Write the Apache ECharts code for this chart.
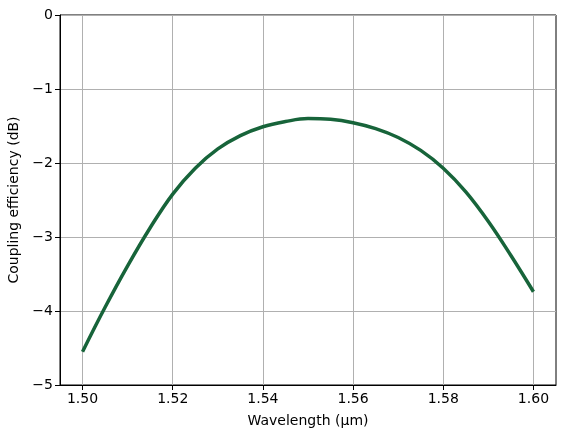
<!DOCTYPE html>
<html>
<head>
<meta charset="utf-8">
<script src="https://cdn.jsdelivr.net/npm/echarts@6/dist/echarts.min.js"></script>
<style>html,body{margin:0;padding:0;background:#fff}#c{width:565px;height:438px}</style>
</head>
<body>
<div id="c"></div>
<script>
var wavelengths = [1.500,1.505,1.510,1.515,1.520,1.525,1.530,1.535,1.540,1.545,1.550,1.555,1.560,1.565,1.570,1.575,1.580,1.585,1.590,1.595,1.600];
var efficiency = [-4.55,-3.95,-3.39,-2.875,-2.42,-2.07,-1.81,-1.63,-1.51,-1.44,-1.40,-1.41,-1.455,-1.535,-1.655,-1.83,-2.07,-2.39,-2.79,-3.25,-3.74];
var xTicks = [1.50,1.52,1.54,1.56,1.58,1.60];
var yTicks = [-5,-4,-3,-2,-1,0];

var data = wavelengths.map(function(w,i){return [w, efficiency[i]];});
var font = 'DejaVu Sans';
var chart = echarts.init(document.getElementById('c'), null, {renderer:'canvas'});
chart.setOption({
  animation:false,
  grid:{left:60,right:9,top:15,bottom:53,show:true,borderColor:'#000',borderWidth:1,backgroundColor:'transparent',
    containLabel:false,outerBoundsMode:'none'},
  xAxis:{
    type:'value', min:1.495, max:1.605,
    name:'Wavelength (μm)', nameLocation:'middle', nameGap:29,
    nameTextStyle:{fontFamily:font,fontSize:14,color:'#000'},
    axisLine:{show:true,onZero:false,lineStyle:{color:'#000',width:1}},
    axisTick:{show:true,length:5,lineStyle:{color:'#000'},customValues:xTicks},
    axisLabel:{fontFamily:font,fontSize:14,color:'#000',margin:7,customValues:xTicks,
      formatter:function(v){return Number(v).toFixed(2);}},
    splitLine:{show:true,lineStyle:{color:'#b0b0b0',width:1}}
  },
  yAxis:{
    type:'value', min:-5, max:0, interval:1,
    name:'Coupling efficiency (dB)', nameLocation:'middle', nameGap:34, nameRotate:90,
    nameTextStyle:{fontFamily:font,fontSize:14,color:'#000'},
    axisLine:{show:true,onZero:false,lineStyle:{color:'#000',width:1}},
    axisTick:{show:true,length:5,lineStyle:{color:'#000'}},
    axisLabel:{fontFamily:font,fontSize:14,color:'#000',margin:7,
      formatter:function(v){return v<0?'\u2212'+Math.abs(v):String(v);}},
    splitLine:{show:true,lineStyle:{color:'#b0b0b0',width:1}}
  },
  series:[{
    type:'line', data:data, smooth:0.4, showSymbol:false,
    lineStyle:{color:'#17643a',width:3.5}
  }]
});
</script>
</body>
</html>
